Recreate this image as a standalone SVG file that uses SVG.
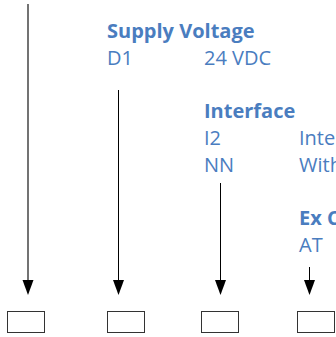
<svg xmlns="http://www.w3.org/2000/svg" width="336" height="337" viewBox="0 0 336 337">
<defs>
<style>
.h{font-family:"Open Sans","Liberation Sans",sans-serif;font-weight:bold;font-size:20px;fill:#4a7dbf}
.t{font-family:"Open Sans","Liberation Sans",sans-serif;font-size:20px;fill:#4a7dbf}
.box{fill:#fff;stroke:#333;stroke-width:1}
.ln{stroke:#000;stroke-width:1;fill:none}
.ah{fill:#000}
</style>
</defs>
<rect width="336" height="337" fill="#fff"/>
<g id="connectors">
<line x1="28" y1="4" x2="28" y2="280" stroke="#444" stroke-width="1.5"/>
<path class="ah" d="M22.5,280 L33.5,280 L28,295 Z"/>
<line class="ln" x1="118.5" y1="90" x2="118.5" y2="280"/>
<path class="ah" d="M113,280 L124,280 L118.5,295 Z"/>
<line class="ln" x1="220.5" y1="183" x2="220.5" y2="280"/>
<path class="ah" d="M215,280 L226,280 L220.5,295 Z"/>
<line class="ln" x1="309.5" y1="267" x2="309.5" y2="280"/>
<path class="ah" d="M304,280 L315,280 L309.5,295 Z"/>
</g>
<g id="supply">
<text class="h" x="107" y="38">Supply Voltage</text>
<text class="t" x="107" y="65">D1</text>
<text class="t" x="204" y="65">24 VDC</text>
</g>
<g id="interface">
<text class="h" x="204" y="118">Interface</text>
<text class="t" x="204" y="145">I2</text>
<text class="t" x="204" y="172">NN</text>
<text class="t" x="299" y="145">Inte</text>
<text class="t" x="299" y="172">With</text>
</g>
<g id="ex">
<text class="h" x="299" y="225">Ex C</text>
<text class="t" x="299" y="252">AT</text>
</g>
<g id="box1"><rect class="box" x="7.5" y="311.5" width="37" height="21"/></g>
<g id="box2"><rect class="box" x="107.5" y="311.5" width="37" height="21"/></g>
<g id="box3"><rect class="box" x="201.5" y="311.5" width="37" height="21"/></g>
<g id="box4"><rect class="box" x="297.5" y="311.5" width="37" height="21"/></g>
</svg>
